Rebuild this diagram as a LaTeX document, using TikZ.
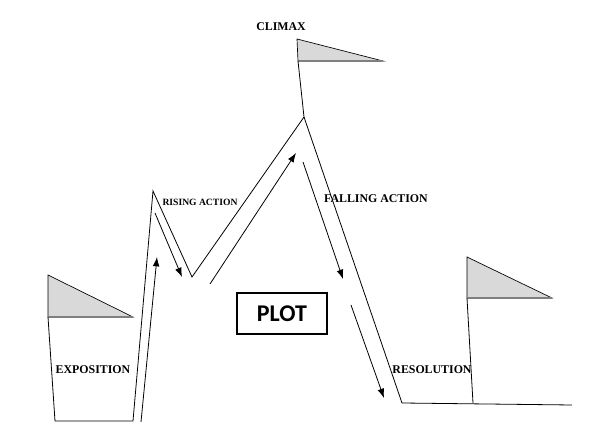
\documentclass[tikz,border=0pt]{standalone}
\usepackage{fontspec}
\setmainfont{Liberation Serif}
\newfontfamily\plotfont{Carlito}
\usetikzlibrary{arrows.meta}
\definecolor{flagfill}{HTML}{D9D9D9}
\definecolor{flagbase}{HTML}{7F7F7F}
\tikzset{
  plotline/.style={line width=0.6pt, line join=miter},
  plotarrow/.style={line width=0.6pt, -{Latex[length=7pt,width=5pt]}},
  flagtri/.style={draw=black, line width=0.5pt, fill=flagfill},
  flagbar/.style={draw=flagbase, line width=1.6pt},
  lbl/.style={font=\bfseries\fontsize{8.9}{10}\selectfont, inner sep=0pt},
  smalllbl/.style={font=\bfseries\fontsize{7.2}{8}\selectfont, inner sep=0pt},
  plotbox/.style={draw=black, line width=0.8pt, minimum width=67.5pt, minimum height=30.75pt, font=\plotfont\bfseries\fontsize{18}{20}\selectfont}
}
\begin{document}
\begin{tikzpicture}[x=0.75pt,y=-0.75pt]
\useasboundingbox (0,0) rectangle (601,442);
% key points
\coordinate (e1) at (48,317);
\coordinate (e2) at (55,421);
\coordinate (e3) at (133,421);
\coordinate (r1) at (153,191);
\coordinate (v1) at (192,277);
\coordinate (c1) at (304,117);
\coordinate (c2) at (298,61);
\coordinate (f1) at (402,403);
\coordinate (s1) at (473,403);
\coordinate (s2) at (467,298);
\coordinate (f2) at (572,405);
% flags
\coordinate (et) at (48,275);
\coordinate (er) at (133,317);
\coordinate (ct) at (297,39);
\coordinate (cr) at (383,61);
\coordinate (st) at (467,257);
\coordinate (sr) at (552,298);
\draw[flagtri] (et) -- (er) -- (e1) -- cycle;
\draw[flagbar] (e1) -- (er);
\draw[flagtri] (ct) -- (cr) -- (c2) -- cycle;
\draw[flagbar] (c2) -- (cr);
\draw[flagtri] (st) -- (sr) -- (s2) -- cycle;
\draw[flagbar] (s2) -- (sr);
% main plot line
\draw[plotline] (e1) -- (e2) -- (e3) -- (r1) -- (v1) -- (c1) -- (c2);
\draw[plotline] (c1) -- (f1) -- (f2);
\draw[plotline] (s1) -- (s2);
% arrows
\coordinate (a1s) at (141,422); \coordinate (a1e) at (157,257);
\coordinate (a2s) at (155,213); \coordinate (a2e) at (182,277);
\coordinate (a3s) at (210,284); \coordinate (a3e) at (296,153);
\coordinate (a4s) at (303,162); \coordinate (a4e) at (343,279);
\coordinate (a5s) at (351,305); \coordinate (a5e) at (384,398);
\draw[plotarrow] (a1s) -- (a1e);
\draw[plotarrow] (a2s) -- (a2e);
\draw[plotarrow] (a3s) -- (a3e);
\draw[plotarrow] (a4s) -- (a4e);
\draw[plotarrow] (a5s) -- (a5e);
% labels
\node[lbl] (climax) at (281,27) {CLIMAX};
\node[smalllbl] (rising) at (200,202) {RISING ACTION};
\node[lbl] (falling) at (376,199) {FALLING ACTION};
\node[lbl] (expo) at (93,370) {EXPOSITION};
\node[lbl] (reso) at (432,370) {RESOLUTION};
\node[plotbox] (plot) at (282,313.5) {PLOT};
\end{tikzpicture}
\end{document}
